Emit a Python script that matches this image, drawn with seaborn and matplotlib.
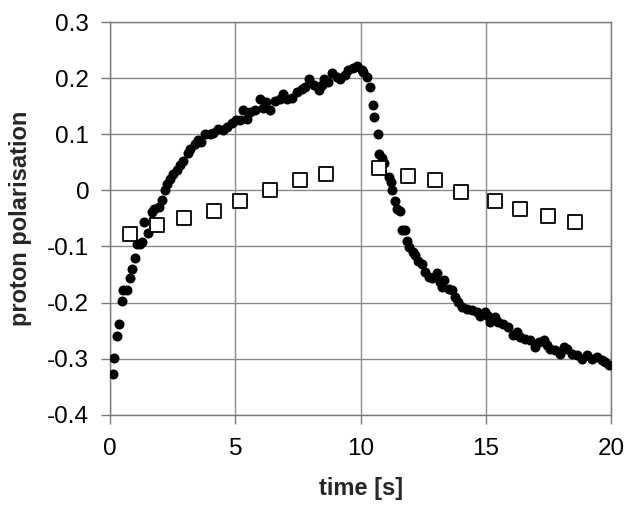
import matplotlib
matplotlib.use('Agg')
import matplotlib.pyplot as plt
import seaborn as sns
import pandas as pd

# filled circles: measured polarisation
time_dots = [0.11, 0.16, 0.29, 0.36, 0.48, 0.53, 0.67, 0.80, 0.87, 0.99,
             1.09, 1.21, 1.27, 1.35, 1.50, 1.69, 1.77, 1.94, 2.08, 2.20,
             2.26, 2.40, 2.53, 2.66, 2.79, 2.93, 3.09, 3.17, 3.37, 3.52,
             3.63, 3.79, 3.99, 4.12, 4.32, 4.52, 4.66, 4.86, 5.03, 5.19,
             5.30, 5.46, 5.59, 5.79, 5.99, 6.12, 6.23, 6.39, 6.59, 6.79,
             6.92, 7.05, 7.25, 7.45, 7.65, 7.78, 7.92, 8.12, 8.32, 8.45,
             8.54, 8.71, 8.87, 9.05, 9.18, 9.38, 9.51, 9.71, 9.85, 10.05,
             10.11, 10.25, 10.38, 10.49, 10.54, 10.70, 10.75, 10.87, 10.95, 11.13,
             11.23, 11.26, 11.37, 11.45, 11.58, 11.64, 11.78, 11.87, 11.95, 12.08,
             12.18, 12.27, 12.44, 12.57, 12.71, 12.84, 13.04, 13.17, 13.31, 13.24,
             13.51, 13.64, 13.77, 13.90, 14.04, 14.24, 14.44, 14.64, 14.77, 14.97,
             15.10, 15.17, 15.37, 15.50, 15.70, 15.90, 16.10, 16.24, 16.37, 16.57,
             16.77, 16.97, 17.10, 17.30, 17.43, 17.56, 17.76, 17.96, 18.10, 18.23,
             18.43, 18.63, 18.83, 19.03, 19.23, 19.43, 19.63, 19.76, 19.93]
pol_dots = [-0.328, -0.299, -0.259, -0.239, -0.197, -0.178, -0.177, -0.157, -0.140, -0.121,
            -0.096, -0.095, -0.092, -0.056, -0.076, -0.038, -0.034, -0.030, -0.017, 0.001,
            0.012, 0.021, 0.030, 0.037, 0.046, 0.053, 0.066, 0.073, 0.083, 0.089,
            0.086, 0.101, 0.100, 0.103, 0.110, 0.108, 0.113, 0.120, 0.126, 0.125,
            0.143, 0.128, 0.140, 0.144, 0.163, 0.146, 0.157, 0.143, 0.159, 0.163,
            0.172, 0.163, 0.165, 0.175, 0.181, 0.185, 0.199, 0.187, 0.179, 0.187,
            0.199, 0.193, 0.210, 0.202, 0.199, 0.205, 0.214, 0.219, 0.221, 0.215,
            0.211, 0.202, 0.184, 0.152, 0.131, 0.100, 0.064, 0.057, 0.049, 0.024,
            0.015, 0.001, -0.019, -0.034, -0.037, -0.070, -0.071, -0.090, -0.101, -0.110,
            -0.116, -0.125, -0.131, -0.146, -0.155, -0.157, -0.148, -0.163, -0.159, -0.173,
            -0.175, -0.178, -0.190, -0.199, -0.208, -0.211, -0.214, -0.217, -0.223, -0.217,
            -0.223, -0.235, -0.226, -0.235, -0.238, -0.244, -0.258, -0.253, -0.262, -0.264,
            -0.267, -0.279, -0.270, -0.267, -0.276, -0.282, -0.285, -0.291, -0.279, -0.282,
            -0.291, -0.294, -0.300, -0.294, -0.300, -0.297, -0.303, -0.306, -0.312]

# open squares
time_squares = [0.80, 1.88, 2.95, 4.15, 5.18, 6.37, 7.58, 8.60,
                10.75, 11.90, 12.97, 14.00, 15.38, 16.35, 17.47, 18.57]
pol_squares = [-0.078, -0.062, -0.050, -0.036, -0.019, 0.001, 0.018, 0.029,
               0.040, 0.026, 0.018, -0.002, -0.019, -0.033, -0.045, -0.056]

x_ticks = [0, 5, 10, 15, 20]
y_ticks = [-0.4, -0.3, -0.2, -0.1, 0, 0.1, 0.2, 0.3]
y_labels = ['-0.4', '-0.3', '-0.2', '-0.1', '0', '0.1', '0.2', '0.3']

dots = pd.DataFrame({'time': time_dots, 'pol': pol_dots})
squares = pd.DataFrame({'time': time_squares, 'pol': pol_squares})

sns.set_style('white')
plt.rcParams['font.family'] = ['Liberation Sans', 'DejaVu Sans']

fig = plt.figure(figsize=(6.4, 5.14), dpi=100)
ax = fig.add_axes([0.172, 0.193, 0.783, 0.764])

sns.scatterplot(data=dots, x='time', y='pol', ax=ax, color='black',
                s=52, edgecolor='black', linewidth=0, zorder=3)
sns.scatterplot(data=squares, x='time', y='pol', ax=ax, marker='s',
                s=110, facecolor='white', edgecolor='black', linewidth=1.3, zorder=4)

ax.set_xlim(0, 20)
ax.set_ylim(-0.4, 0.3)
ax.set_xticks(x_ticks)
ax.set_yticks(y_ticks)
ax.set_yticklabels(y_labels)
ax.grid(True, color='#8a8a8a', linewidth=1.0)
ax.set_axisbelow(True)
for sp in ax.spines.values():
    sp.set_color('#7a7a7a')
    sp.set_linewidth(1.0)
ax.tick_params(axis='both', direction='out', length=6.5, width=1.0, color='#7a7a7a',
               labelsize=17.5, labelcolor='black', left=True, bottom=True)
ax.tick_params(axis='y', pad=8.5)
ax.tick_params(axis='x', pad=10.5)
ax.set_xlabel('time [s]', fontsize=17, fontweight='bold')
ax.set_ylabel('proton polarisation', fontsize=17, fontweight='bold')
ax.xaxis.set_label_coords(0.5, -0.158)
ax.yaxis.set_label_coords(-0.155, 0.5)

fig.savefig('out.png', dpi=100)
plt.close()
